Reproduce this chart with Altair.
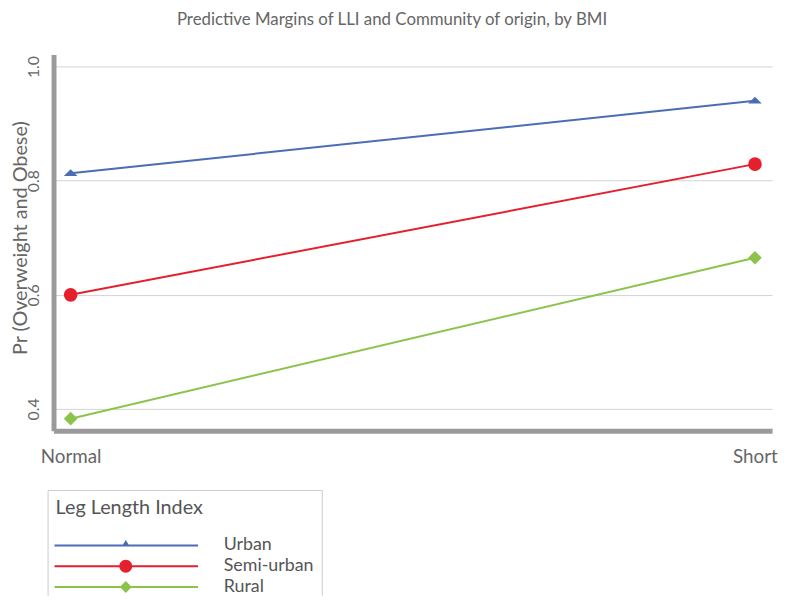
import altair as alt
import pandas as pd

# ---- data ----
lli_levels = ["Normal", "Short"]
communities = ["Urban", "Semi-urban", "Rural"]
urban = [0.813, 0.940]
semi_urban = [0.600, 0.829]
rural = [0.383, 0.665]
colors = ["#4a6db5", "#e5202e", "#8cc34b"]

rows = []
for name, vals in zip(communities, [urban, semi_urban, rural]):
    for lvl, v in zip(lli_levels, vals):
        rows.append({"LLI": lvl, "Community": name, "Pr": v})
df = pd.DataFrame(rows)

FONT = "Lato"
GREY = "#666666"

x_enc = alt.X(
    "LLI:N",
    sort=lli_levels,
    scale=alt.Scale(type="point", padding=0.025),
    axis=alt.Axis(
        title=None, labelAngle=0, ticks=False, grid=False,
        domainColor="#9a9a9a", domainWidth=5,
        labelFont=FONT, labelFontSize=19, labelColor=GREY, labelPadding=17,
    ),
)
y_enc = alt.Y(
    "Pr:Q",
    scale=alt.Scale(domain=[0.362, 1.021], nice=False, zero=False),
    axis=alt.Axis(
        title="Pr (Overweight and Obese)",
        values=[0.4, 0.6, 0.8, 1.0], format=".1f",
        ticks=False, grid=True, gridColor="#d3d3d3", gridWidth=1,
        domainColor="#9a9a9a", domainWidth=5,
        labelFont=FONT, labelFontSize=16, labelColor=GREY,
        labelAngle=270, labelAlign="center", labelBaseline="bottom", labelPadding=12,
        titleFont=FONT, titleFontSize=20, titleFontWeight="normal", titleColor=GREY,
        titleAngle=270, titleAlign="center", titleBaseline="middle",
        titleX=-33, titleY=185,
    ),
)

color_scale = alt.Scale(domain=communities, range=colors)

tri_path = "M-1,0.4L0,-0.6L1,0.4Z"
marker_shapes = [tri_path, "circle", "diamond"]

line_path = "M-2,-0.2H27V0.2H-2Z"
legend_shapes = [
    line_path + "M11.6,0.2L12.4,-1.1L13.2,0.2Z",
    line_path + "M11.1,0A1.3,1.3,0,1,1,13.7,0A1.3,1.3,0,1,1,11.1,0Z",
    line_path + "M12.4,-1.2L13.6,0L12.4,1.2L11.2,0Z",
]

base = alt.Chart(df)

lines = base.mark_line(strokeWidth=2).encode(
    x=x_enc, y=y_enc,
    color=alt.Color("Community:N", scale=color_scale, legend=None),
)

points = base.mark_point(filled=True, opacity=1, size=190).encode(
    x=x_enc, y=y_enc,
    color=alt.Color("Community:N", scale=color_scale, legend=None),
    shape=alt.Shape("Community:N", scale=alt.Scale(domain=communities, range=marker_shapes), legend=None),
)

legend_props = dict(
    orient="none", legendX=-6, legendY=440,
    title="Leg Length Index", titleFont=FONT, titleFontSize=20, titleFontWeight="normal",
    titleColor="#555555", titlePadding=19,
    labelFont=FONT, labelFontSize=18, labelColor="#555555", labelOffset=152, labelLimit=300,
    symbolSize=100, symbolOpacity=1, symbolStrokeWidth=0,
    padding=8, strokeColor="#cccccc", fillColor="white", rowPadding=3,
)

legend_layer = base.mark_point(filled=True, opacity=0, size=190).encode(
    x=x_enc, y=y_enc,
    color=alt.Color("Community:N", scale=color_scale, legend=alt.Legend(**legend_props)),
    shape=alt.Shape("Community:N", scale=alt.Scale(domain=communities, range=legend_shapes),
                    legend=alt.Legend(**legend_props)),
)

chart = (
    alt.layer(lines, points, legend_layer)
    .resolve_scale(color="independent", shape="independent")
    .properties(
        width=726, height=380,
        title=alt.Title(
            "Predictive Margins of LLI and Community of origin, by BMI",
            font=FONT, fontSize=17, fontWeight="normal", color=GREY,
            anchor="middle", frame="group", dx=-21, offset=26,
        ),
        autosize=alt.AutoSizeParams(type="none"),
        padding={"left": 46, "top": 44, "right": 7, "bottom": 164},
    )
    .configure_view(stroke=None)
)

chart.save("out.html", embed_options={"renderer": "svg", "actions": False})
